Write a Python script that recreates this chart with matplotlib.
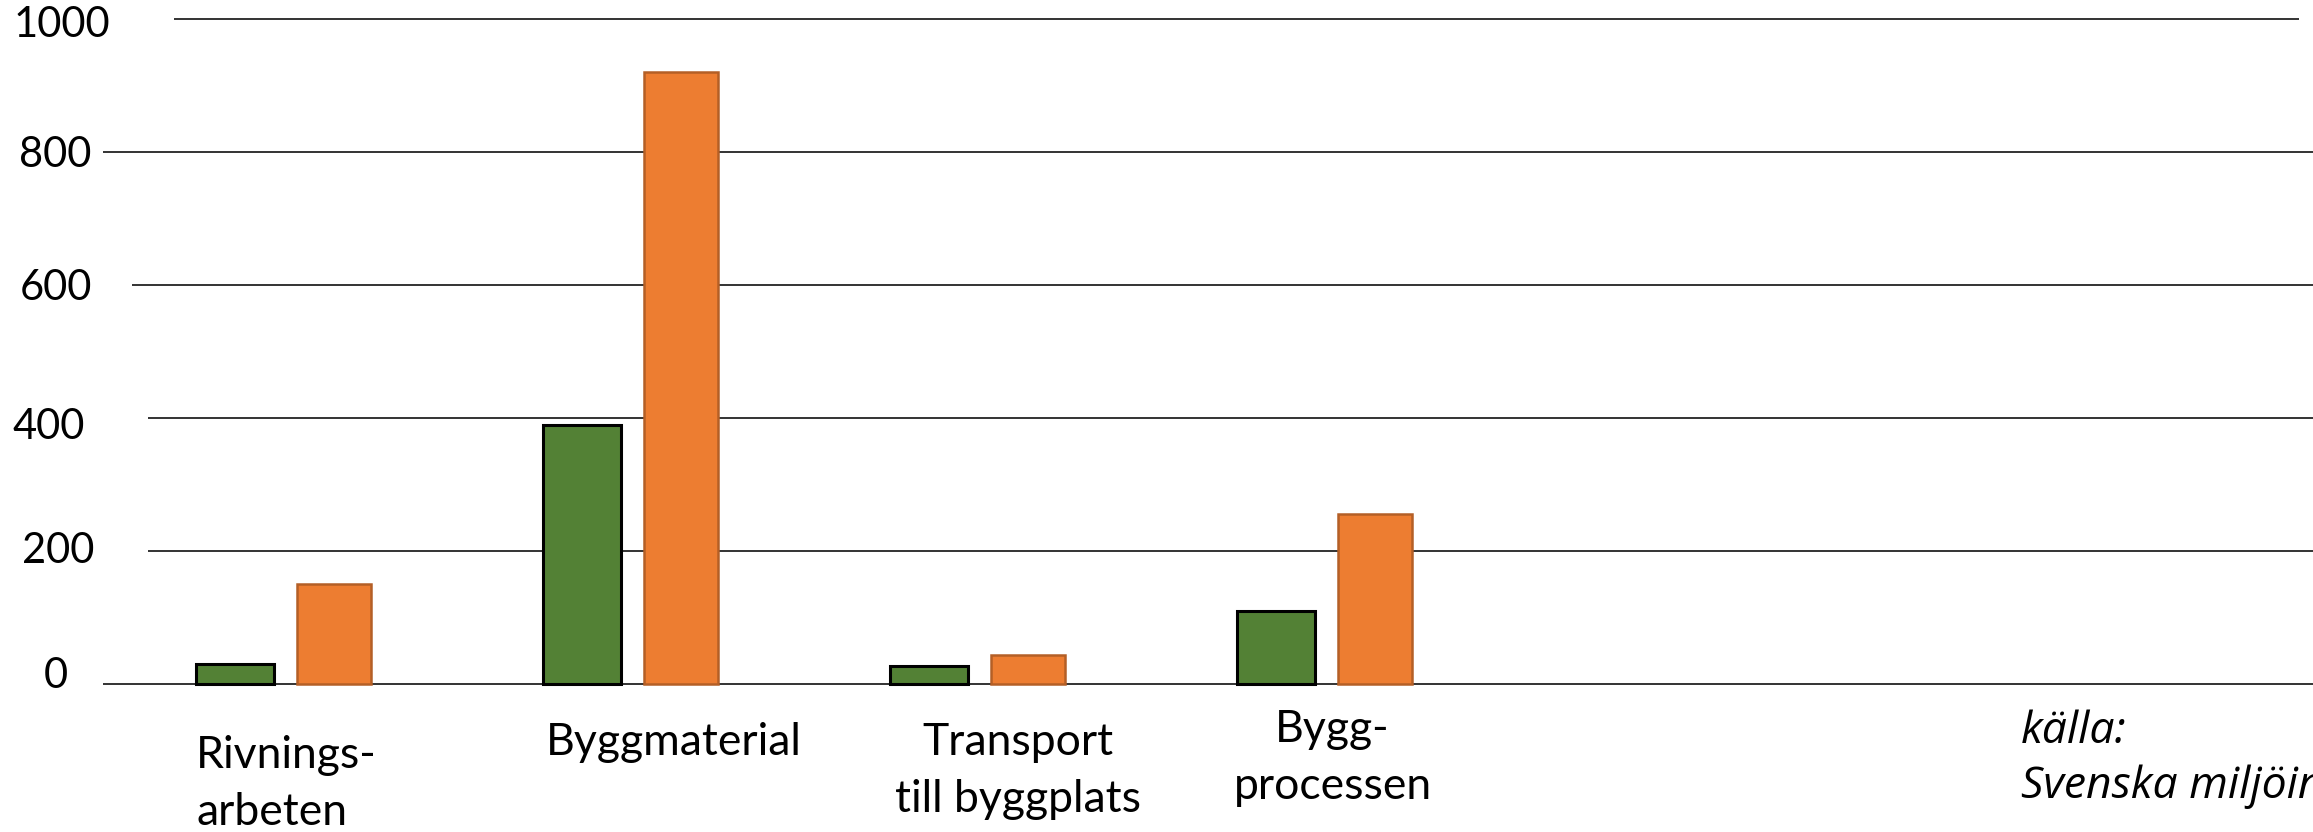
import matplotlib
matplotlib.use("Agg")
import matplotlib.pyplot as plt

# Data: two series per building phase
categories = ["Rivnings-\narbeten", "Byggmaterial", "Transport\ntill byggplats", "Bygg-\nprocessen"]
green_values = [30, 390, 27, 110]
orange_values = [150, 920, 43, 255]
ytick_values = [0, 200, 400, 600, 800, 1000]
source_text = "källa:\nSvenska miljöinstitutet"

W, H = 2313, 832
GREEN = "#538135"
ORANGE = "#ED7D31"
ORANGE_EDGE = "#B45F26"

fig = plt.figure(figsize=(W / 100, H / 100), dpi=100)
fig.patch.set_facecolor("white")

# y = 0 sits at 684 px from top, y = 1000 at 19 px
ax = fig.add_axes([0, (H - 684) / H, 1, (684 - 19) / H])
ax.set_xlim(-0.820, 5.846)
ax.set_ylim(0, 1000)
ax.axis("off")

# gridlines start at slightly different x positions (data units)
grid_start = {0: -0.523, 200: -0.393, 400: -0.393, 600: -0.439, 800: -0.523, 1000: -0.318}
grid_end = {1000: 5.805}
for v in ytick_values:
    ax.plot([grid_start[v], grid_end.get(v, 5.846)], [v, v], color="#333333",
            lw=1.4, zorder=0, clip_on=False, solid_capstyle="butt")

x = list(range(len(categories)))
off = 0.143
ax.bar([i - off for i in x], green_values, width=0.225, color=GREEN,
       edgecolor="black", linewidth=2.2, zorder=2, clip_on=False)
ax.bar([i + off for i in x], orange_values, width=0.215, color=ORANGE,
       edgecolor=ORANGE_EDGE, linewidth=1.8, zorder=2, clip_on=False)

font = "Lato"

# y tick labels (center x, baseline y in px)
tick_pos = {1000: (61.5, 37), 800: (55.5, 167), 600: (55.5, 300),
            400: (49, 439), 200: (58.5, 563), 0: (56, 688)}
for v in ytick_values:
    cx, by = tick_pos[v]
    fig.text(cx / W, 1 - by / H, str(v), ha="center", va="baseline",
             fontsize=30, family=font, color="black")

# category labels, one text per line: (x, first baseline, alignment)
label_pos = [(196, 768, "left"), (546, 755, "left"), (1018, 755, "center"), (1332.5, 742, "center")]
line_gap = 57
for cat, (lx, by, ha) in zip(categories, label_pos):
    for k, line in enumerate(cat.split("\n")):
        fig.text(lx / W, 1 - (by + k * line_gap) / H, line, ha=ha, va="baseline",
                 fontsize=32, family=font, color="black")

# source note, runs off the right edge
for k, line in enumerate(source_text.split("\n")):
    fig.text(2021 / W, 1 - (743 + k * 55) / H, line, ha="left", va="baseline",
             fontsize=32, family="Open Sans", style="italic", color="black")

fig.savefig("out.png", dpi=100, facecolor="white")
